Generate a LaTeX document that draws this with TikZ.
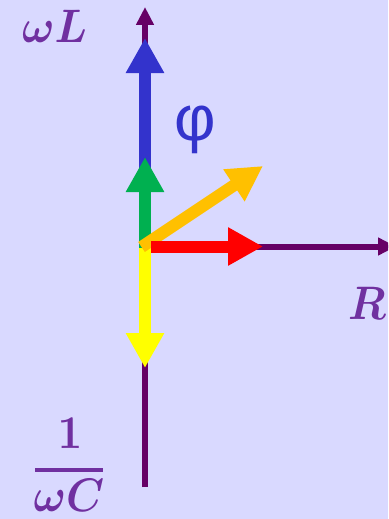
\documentclass[tikz,border=0pt]{standalone}
\usepackage{bm}
\usepackage{graphicx}
\usepackage{fontspec}
\newfontfamily\phifont{Liberation Sans}
\usetikzlibrary{arrows.meta}
\definecolor{bg}{RGB}{217,217,255}
\definecolor{axpurple}{RGB}{102,0,102}
\definecolor{txtpurple}{RGB}{112,48,160}
\definecolor{vblue}{RGB}{51,51,204}
\definecolor{vgreen}{RGB}{0,176,80}
\definecolor{vred}{RGB}{255,0,0}
\definecolor{vyellow}{RGB}{255,255,0}
\definecolor{vorange}{RGB}{255,192,0}
\newcommand{\hugelbl}[1]{\scalebox{4.3}[4.7]{$\bm{#1}$}}
\tikzset{
  axis/.style={line width=6pt, draw=axpurple, -{Triangle[length=18pt,width=17pt]}},
  vec/.style={line width=12pt, -{Triangle[length=35pt,width=36pt]}},
  lbl/.style={text=txtpurple, inner sep=0pt},
}
\begin{document}
\begin{tikzpicture}[x=1pt,y=-1pt]
\useasboundingbox (0,0) rectangle (388,519);
\fill[bg] (0,0) rectangle (388,519);
\clip (0,0) rectangle (388,519);
\coordinate (O) at (145,246.5);
\coordinate (ytop) at (145,7);
\coordinate (ybot) at (145,487);
\coordinate (xend) at (396,246.5);
\coordinate (blueTip) at (145,38);
\coordinate (greenTip) at (145,157);
\coordinate (yellowTip) at (145,368);
\coordinate (redTip) at (263,246.5);
\coordinate (orangeTip) at (263,166);
\coordinate (gs) at (145,248);
\coordinate (os) at (141.5,247);
\coordinate (rs) at (151,246.5);
% axes
\draw[axis] (ybot) -- (ytop);
\draw[axis] (O) -- (xend);
% vectors
\draw[vec, draw=vblue, fill=vblue] (O) -- (blueTip);
\draw[vec, draw=vgreen, fill=vgreen] (gs) -- (greenTip);
\draw[vec, draw=vyellow, fill=vyellow] (gs) -- (yellowTip);
\draw[vec, draw=vorange, fill=vorange] (os) -- (orangeTip);
\draw[vec, draw=vred, fill=vred] (rs) -- (redTip);
% labels
\node[lbl, anchor=base west] (wL) at (22,43) {\hugelbl{\omega L}};
\node[lbl, anchor=base east] (R) at (386,319) {\hugelbl{R}};
\node[lbl, anchor=base] (one) at (70,448) {\hugelbl{1}};
\coordinate (barL) at (35,470);
\coordinate (barR) at (103,470);
\draw[line width=3.5pt, txtpurple] (barL) -- (barR);
\node[lbl, anchor=base] (wC) at (69,511) {\hugelbl{\omega C}};
\node[text=vblue, inner sep=0pt, font=\fontsize{64}{70}\phifont] (phi) at (195,130) {φ};
\end{tikzpicture}
\end{document}
